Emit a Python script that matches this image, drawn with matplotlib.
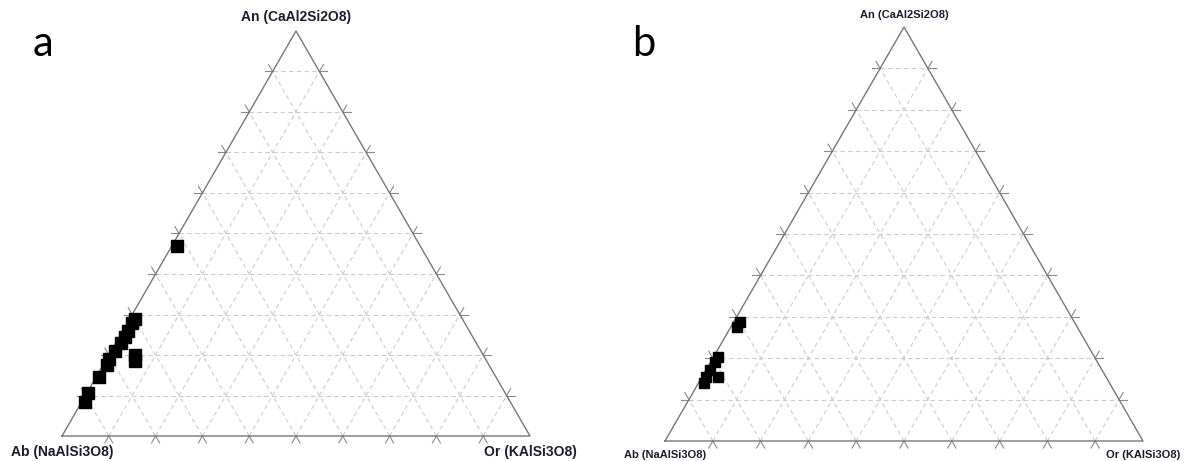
import numpy as np
import matplotlib.pyplot as plt

# feldspar compositions (fractions): An, Or (Ab = 1 - An - Or)
an_a = [0.47, 0.29, 0.28, 0.26, 0.245, 0.23, 0.21, 0.19, 0.175, 0.145, 0.105, 0.085, 0.20, 0.185]
or_a = [0.01, 0.01, 0.01, 0.01, 0.012, 0.01, 0.008, 0.006, 0.009, 0.006, 0.004, 0.007, 0.057, 0.063]

an_b = [0.287, 0.275, 0.203, 0.191, 0.171, 0.155, 0.140, 0.155]
or_b = [0.013, 0.013, 0.009, 0.009, 0.008, 0.008, 0.012, 0.033]

apex_labels = ['An (CaAl2Si2O8)', 'Ab (NaAlSi3O8)', 'Or (KAlSi3O8)']
panel_tags = ['a', 'b']

H = np.sqrt(3) / 2
W, HT = 1184, 461


def to_xy(an, orr):
    an = np.asarray(an)
    orr = np.asarray(orr)
    return orr + an / 2, an * H


def ext(p0, p1, L):
    d = np.array(p1) - np.array(p0)
    d = d / np.hypot(*d)
    return p0, np.array(p0) - d * L


def draw_ternary(ax, an, orr, ms, fs, top_off, bot_off):
    ax.set_xlim(0, 1)
    ax.set_ylim(0, H)
    ax.axis('off')
    L = 0.017
    for i in range(1, 10):
        t = i / 10
        lines = [((t / 2, t * H), (1 - t / 2, t * H)),
                 ((t, 0), (t + (1 - t) / 2, (1 - t) * H)),
                 ((1 - t, 0), ((1 - t) / 2, (1 - t) * H))]
        for p0, p1 in lines:
            ax.plot([p0[0], p1[0]], [p0[1], p1[1]], ls=(0, (4, 3)), color='#cccccc',
                    lw=0.8, clip_on=False, zorder=1)
            for a, b in ((p0, p1), (p1, p0)):
                s, e = ext(a, b, L)
                ax.plot([s[0], e[0]], [s[1], e[1]], color='#8a8a8a', lw=0.8,
                        clip_on=False, zorder=2)
    ax.plot([0, 1, 0.5, 0], [0, 0, H, 0], color='#777777', lw=1.0, clip_on=False, zorder=2)
    x, y = to_xy(an, orr)
    ax.plot(x, y, 's', color='black', ms=ms, mew=1.0, clip_on=False, zorder=3)
    kw = dict(textcoords='offset pixels', ha='center', va='center', fontsize=fs,
              fontweight='bold', color='#1c1c30', family='Liberation Sans')
    ax.annotate(apex_labels[0], xy=(0.5, H), xytext=(0, top_off), **kw)
    ax.annotate(apex_labels[1], xy=(0, 0), xytext=(0, -bot_off), **kw)
    ax.annotate(apex_labels[2], xy=(1, 0), xytext=(0, -bot_off), **kw)


fig = plt.figure(figsize=(W / 100, HT / 100), dpi=100)
ax1 = fig.add_axes([62 / W, 25 / HT, 468 / W, 405 / HT])
ax2 = fig.add_axes([665 / W, 20 / HT, 478 / W, 414 / HT])

draw_ternary(ax1, an_a, or_a, 8.6, 10, 14, 16)
draw_ternary(ax2, an_b, or_b, 7.2, 8, 12, 14)

fig.text(43 / W, 1 - 44 / HT, panel_tags[0], fontsize=30, family='Lato', ha='center', va='center')
fig.text(644 / W, 1 - 44 / HT, panel_tags[1], fontsize=30, family='Lato', ha='center', va='center')

fig.savefig('out.png', dpi=100)
